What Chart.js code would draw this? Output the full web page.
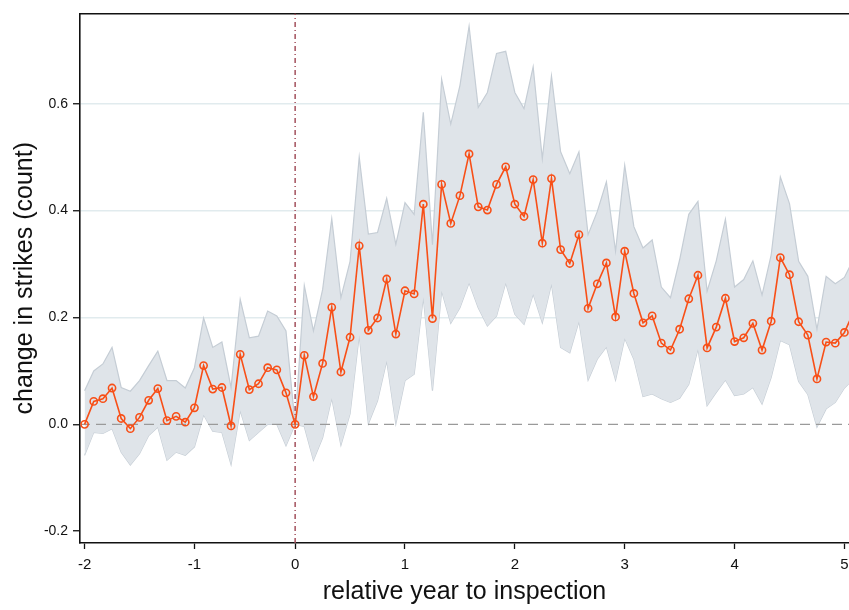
<!DOCTYPE html>
<html>
<head>
<meta charset="utf-8">
<script src="https://cdn.jsdelivr.net/npm/chart.js@4/dist/chart.umd.min.js"></script>
<style>
  html, body { margin: 0; padding: 0; background: #fff; overflow: hidden; }
  #wrap { width: 849px; height: 610px; overflow: hidden; }
</style>
</head>
<body>
<div id="wrap"><canvas id="graph" width="870" height="610"></canvas></div>
<script>
// relative month to inspection (monthly estimates, pre-period starts at -23,
// the last one sits just past the right edge of the picture)
var months = [];
for (var m = -23; m <= 61; m++) months.push(m);

var estimate = [
  0.000, 0.043, 0.048, 0.068, 0.011, -0.008, 0.013, 0.045, 0.067, 0.007, 0.015, 0.004,
  0.031, 0.110, 0.066, 0.069, -0.003, 0.131, 0.065, 0.076, 0.106, 0.102, 0.059, 0.000,
  0.129, 0.052, 0.114, 0.219, 0.098, 0.163, 0.334, 0.176, 0.199, 0.272, 0.169, 0.250,
  0.244, 0.412, 0.198, 0.449, 0.376, 0.428, 0.506, 0.407,
  0.401, 0.449, 0.482, 0.412, 0.389, 0.458, 0.339, 0.460, 0.327, 0.301, 0.355, 0.217,
  0.263, 0.302, 0.201, 0.324, 0.245,
  0.190, 0.203, 0.152, 0.139, 0.178, 0.235, 0.279, 0.143, 0.182, 0.236, 0.155, 0.162,
  0.189, 0.139, 0.193, 0.312, 0.280, 0.192, 0.167, 0.085, 0.154, 0.152, 0.172, 0.210
];

var ciUpper = [
  0.063, 0.100, 0.113, 0.144, 0.069, 0.062, 0.082, 0.110, 0.137, 0.082, 0.082, 0.068,
  0.106, 0.199, 0.144, 0.154, 0.069, 0.234, 0.162, 0.165, 0.212, 0.203, 0.175, 0.000,
  0.260, 0.175, 0.252, 0.385, 0.237, 0.305, 0.500, 0.356, 0.359, 0.423, 0.337, 0.415,
  0.393, 0.584, 0.336, 0.646, 0.562, 0.634, 0.745, 0.593,
  0.621, 0.694, 0.698, 0.621, 0.591, 0.669, 0.497, 0.652, 0.510, 0.469, 0.510, 0.355,
  0.398, 0.454, 0.324, 0.485, 0.370,
  0.330, 0.345, 0.257, 0.237, 0.308, 0.393, 0.417, 0.249, 0.306, 0.384, 0.257, 0.271,
  0.306, 0.242, 0.317, 0.463, 0.413, 0.305, 0.277, 0.178, 0.277, 0.263, 0.275, 0.310
];

var ciLower = [
  -0.058, -0.015, -0.017, -0.008, -0.052, -0.076, -0.055, -0.021, -0.005, -0.067, -0.052, -0.058,
  -0.042, 0.018, -0.013, -0.015, -0.075, 0.026, -0.030, -0.015, 0.000, 0.000, -0.040, 0.000,
  -0.004, -0.067, -0.025, 0.049, -0.039, 0.020, 0.167, 0.001, 0.044, 0.119, 0.001, 0.082,
  0.094, 0.238, 0.063, 0.250, 0.189, 0.218, 0.265, 0.218,
  0.184, 0.203, 0.265, 0.206, 0.187, 0.244, 0.190, 0.263, 0.144, 0.134, 0.193, 0.083,
  0.122, 0.145, 0.083, 0.161, 0.122,
  0.052, 0.057, 0.048, 0.041, 0.049, 0.075, 0.141, 0.035, 0.060, 0.083, 0.054, 0.057,
  0.069, 0.038, 0.088, 0.157, 0.149, 0.080, 0.056, -0.005, 0.029, 0.041, 0.068, 0.085
];

var xTickMonths = [-23, -11, 0, 12, 24, 36, 48, 60];
var xTickLabels = ['-2', '-1', '0', '1', '2', '3', '4', '5'];
var yTicks = [-0.2, 0.0, 0.2, 0.4, 0.6];

var xMin = -23.5, xMax = 60.5;
var yMin = -0.222, yMax = 0.769;

const toPoints = (vals) => months.map((m, i) => ({ x: m, y: vals[i] }));

const bandEdge = '#c5cdd5';
const bandFill = '#dfe4e9';
const lineColor = '#f84f17';

var graphTarget = document.getElementById('graph');

new Chart(graphTarget, {
    type: 'line',
    data: {
        datasets: [
            {
                label: 'estimate',
                data: toPoints(estimate),
                borderColor: lineColor,
                borderWidth: 1.6,
                pointRadius: 3.6,
                pointBorderWidth: 1.6,
                pointBorderColor: lineColor,
                pointBackgroundColor: 'rgba(0,0,0,0)',
                tension: 0,
                fill: false,
                order: 0
            },
            {
                label: 'zero',
                data: [{ x: xMin, y: 0 }, { x: xMax, y: 0 }],
                borderColor: '#9a9a9a',
                borderWidth: 1.4,
                borderDash: [10, 6],
                pointRadius: 0,
                fill: false,
                order: 1
            },
            {
                label: 'inspection',
                data: [{ x: 0, y: yMin }, { x: 0, y: yMax }],
                borderColor: '#a3505c',
                borderWidth: 1.5,
                borderDash: [5, 3, 1, 3],
                pointRadius: 0,
                fill: false,
                order: 1
            },
            {
                label: 'upper',
                data: toPoints(ciUpper),
                borderColor: bandEdge,
                borderWidth: 1.2,
                pointRadius: 0,
                backgroundColor: bandFill,
                fill: '+1',
                tension: 0,
                order: 2
            },
            {
                label: 'lower',
                data: toPoints(ciLower),
                borderColor: bandEdge,
                borderWidth: 1.2,
                pointRadius: 0,
                fill: false,
                tension: 0,
                order: 2
            }
        ]
    },
    options: {
        responsive: false,
        animation: false,
        events: [],
        layout: { padding: { top: 10, right: 21, left: 0, bottom: 0 } },
        plugins: {
            legend: { display: false },
            tooltip: { enabled: false }
        },
        scales: {
            x: {
                type: 'linear',
                position: 'bottom',
                min: xMin,
                max: xMax,
                afterBuildTicks: (scale) => {
                    scale.ticks = xTickMonths.map(v => ({ value: v }));
                },
                afterFit: (scale) => { scale.height = 67; },
                ticks: {
                    autoSkip: false,
                    maxRotation: 0,
                    padding: 7,
                    color: '#111',
                    font: { family: 'Liberation Sans, Arial', size: 15 },
                    callback: (v) => xTickLabels[xTickMonths.indexOf(v)]
                },
                grid: {
                    drawOnChartArea: false,
                    drawTicks: true,
                    tickLength: 6,
                    tickWidth: 1.3,
                    tickColor: '#111'
                },
                border: { display: true, color: '#111', width: 1.6 },
                title: {
                    display: true,
                    text: 'relative year to inspection',
                    color: '#111',
                    font: { family: 'Liberation Sans, Arial', size: 25 },
                    padding: { top: 0, bottom: 3 }
                }
            },
            xTop: {
                type: 'linear',
                position: 'top',
                min: xMin,
                max: xMax,
                ticks: { display: false },
                grid: { display: false, drawTicks: false },
                border: { display: true, color: '#111', width: 1.6 }
            },
            y: {
                type: 'linear',
                min: yMin,
                max: yMax,
                z: 1,
                afterBuildTicks: (scale) => {
                    scale.ticks = yTicks.map(v => ({ value: v }));
                },
                afterFit: (scale) => { scale.width = 80; },
                ticks: {
                    padding: 5,
                    color: '#111',
                    font: { family: 'Liberation Sans, Arial', size: 14 },
                    callback: (v) => v.toFixed(1)
                },
                grid: {
                    drawOnChartArea: true,
                    color: (ctx) => (ctx.tick && ctx.tick.value > 0.01) ? 'rgba(215,228,232,0.75)' : 'rgba(0,0,0,0)',
                    lineWidth: 1.5,
                    drawTicks: true,
                    tickLength: 7,
                    tickWidth: 1.3,
                    tickColor: '#111'
                },
                border: { display: true, color: '#111', width: 1.6 },
                title: {
                    display: true,
                    text: 'change in strikes (count)',
                    color: '#111',
                    font: { family: 'Liberation Sans, Arial', size: 25 },
                    padding: { top: 10, bottom: 0 }
                }
            }
        }
    }
});
</script>
</body>
</html>
